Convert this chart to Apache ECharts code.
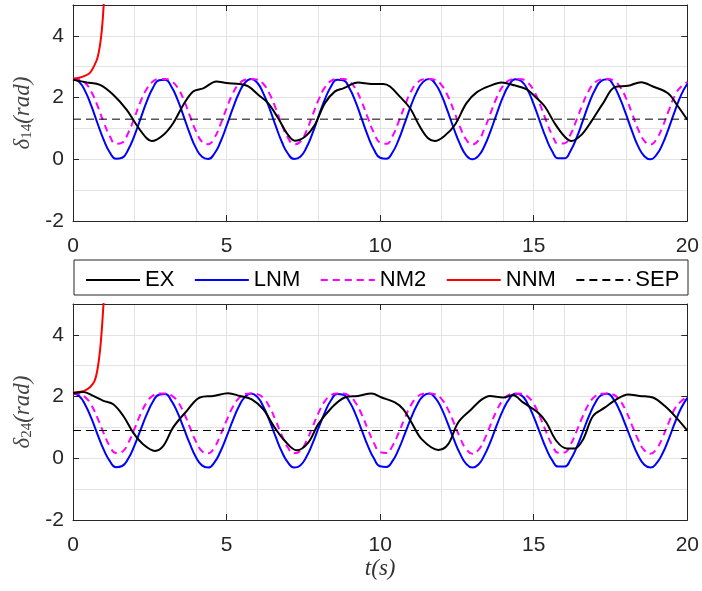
<!DOCTYPE html>
<html><head><meta charset="utf-8">
<script src="https://cdn.jsdelivr.net/npm/echarts@6/dist/echarts.min.js"></script>
<style>html,body{margin:0;padding:0;background:#fff}#c{width:702px;height:591px}</style>
</head><body><div id="c"></div>
<script>
// sample times (s) for LNM / NM2 curves: 0, 0.2, ..., 20
const tSample = Array.from({length: 101}, (_, i) => +(i * 0.2).toFixed(1));

const xTicks = [0, 5, 10, 15, 20];
const yTicks = [-2, 0, 2, 4];
const legendNames = ['EX', 'LNM', 'NM2', 'NNM', 'SEP'];

// ---- top panel: delta_14 ----
const lnm1 = [2.60,2.51,2.20,1.72,1.16,0.63,0.22,0.02,0.05,0.32,
  0.77,1.32,1.87,2.31,2.56,2.58,2.36,1.94,1.40,0.84,
  0.37,0.08,0.01,0.18,0.56,1.08,1.64,2.14,2.48,2.60,
  2.48,2.13,1.64,1.08,0.56,0.18,0.01,0.08,0.38,0.85,
  1.41,1.94,2.36,2.58,2.56,2.30,1.86,1.31,0.76,0.31,
  0.05,0.02,0.22,0.63,1.17,1.73,2.20,2.51,2.60,2.44,
  2.07,1.55,0.99,0.49,0.13,0.00,0.11,0.44,0.93,1.49,
  2.02,2.41,2.59,2.53,2.25,1.78,1.23,0.69,0.26,0.03,
  0.03,0.28,0.71,1.25,1.81,2.26,2.54,2.59,2.39,1.99,
  1.47,0.91,0.42,0.10,0.00,0.15,0.51,1.02,1.58,2.09,
  2.45];
const nm2_1 = [2.60,2.59,2.47,2.18,1.73,1.20,0.75,0.50,0.54,0.86,
  1.35,1.87,2.28,2.52,2.60,2.60,2.54,2.33,1.94,1.42,
  0.92,0.57,0.49,0.69,1.13,1.65,2.13,2.44,2.58,2.60,
  2.58,2.44,2.12,1.65,1.12,0.69,0.49,0.57,0.92,1.43,
  1.94,2.33,2.54,2.60,2.60,2.52,2.28,1.86,1.34,0.85,
  0.54,0.50,0.75,1.21,1.73,2.19,2.47,2.59,2.60,2.57,
  2.40,2.06,1.57,1.05,0.64,0.48,0.61,1.00,1.51,2.01,
  2.38,2.56,2.60,2.59,2.49,2.23,1.79,1.26,0.79,0.51,
  0.52,0.81,1.29,1.81,2.24,2.50,2.59,2.60,2.55,2.36,
  1.99,1.49,0.97,0.60,0.48,0.66,1.07,1.59,2.08,2.36,
  2.50];
const ex1T = [0,0.45,0.88,1.31,1.75,2.07,2.4,2.56,2.94,3.26,3.59,3.91,4.24,4.67,5.0,5.43,5.71,6.03,6.35,6.68,7.0,7.22,7.55,7.87,8.2,8.53,8.8,9.28,9.72,10.1,10.32,10.64,10.97,11.29,11.56,11.78,12.1,12.43,12.81,13.14,13.57,13.95,14.33,14.76,15.05,15.36,15.68,16.01,16.23,16.55,16.87,17.26,17.64,18.07,18.5,18.88,19.37,19.7,20];
const ex1V = [2.58,2.49,2.41,2.09,1.60,1.11,0.68,0.59,0.79,1.17,1.76,2.20,2.30,2.52,2.47,2.44,2.36,2.09,1.82,1.33,0.79,0.60,0.73,1.11,1.82,2.20,2.30,2.49,2.44,2.44,2.36,2.03,1.66,1.06,0.68,0.59,0.76,1.11,1.82,2.17,2.38,2.49,2.41,2.27,2.03,1.71,1.17,0.73,0.59,0.79,1.22,1.82,2.34,2.38,2.50,2.36,2.14,1.71,1.28];
const nnm1T = [0,0.2,0.4,0.55,0.7,0.8,0.88,0.94,0.98,1.02];
const nnm1V = [2.62,2.64,2.71,2.80,3.05,3.30,3.70,4.20,4.70,5.40];
const sep1 = 1.3;

// ---- bottom panel: delta_24 ----
const lnm2 = [2.10,2.02,1.73,1.29,0.77,0.28,-0.09,-0.29,-0.25,-0.01,
  0.41,0.92,1.42,1.83,2.06,2.08,1.87,1.49,0.99,0.48,
  0.04,-0.23,-0.30,-0.14,0.22,0.70,1.22,1.68,1.99,2.10,
  1.99,1.67,1.21,0.69,0.21,-0.14,-0.30,-0.23,0.05,0.48,
  1.00,1.49,1.88,2.08,2.06,1.83,1.42,0.91,0.40,-0.01,
  -0.26,-0.28,-0.09,0.29,0.78,1.29,1.73,2.02,2.10,1.95,
  1.61,1.13,0.61,0.15,-0.18,-0.30,-0.20,0.11,0.56,1.08,
  1.56,1.92,2.09,2.04,1.77,1.34,0.83,0.33,-0.06,-0.27,
  -0.27,-0.04,0.36,0.86,1.37,1.79,2.05,2.09,1.91,1.54,
  1.05,0.54,0.09,-0.21,-0.30,-0.16,0.17,0.64,1.16,1.63,
  1.96];
const nm2_2 = [2.10,2.09,1.98,1.72,1.30,0.81,0.39,0.17,0.21,0.50,
  0.95,1.43,1.81,2.03,2.10,2.10,2.04,1.85,1.49,1.02,
  0.55,0.23,0.16,0.35,0.75,1.23,1.66,1.95,2.08,2.10,
  2.08,1.95,1.66,1.22,0.74,0.34,0.16,0.24,0.56,1.02,
  1.49,1.85,2.05,2.10,2.10,2.02,1.80,1.42,0.94,0.49,
  0.20,0.17,0.40,0.82,1.30,1.72,1.98,2.09,2.10,2.07,
  1.92,1.60,1.15,0.67,0.30,0.15,0.27,0.62,1.10,1.56,
  1.89,2.06,2.10,2.09,2.00,1.76,1.35,0.87,0.43,0.18,
  0.19,0.45,0.89,1.37,1.77,2.01,2.09,2.10,2.06,1.88,
  1.54,1.07,0.60,0.26,0.15,0.31,0.69,1.17,1.62,1.85,
  1.98];
const ex2T = [0,0.34,0.66,0.99,1.31,1.64,1.96,2.29,2.67,2.94,3.26,3.7,4.13,4.57,5.05,5.43,5.82,6.19,6.55,6.9,7.28,7.66,7.98,8.42,8.85,9.28,9.72,10.05,10.48,10.75,11.02,11.35,11.89,12.21,12.54,12.97,13.3,13.57,14.0,14.33,14.65,15.14,15.41,15.74,16.07,16.34,16.61,16.93,17.31,17.69,18.07,18.45,18.88,19.26,19.64,20];
const ex2V = [2.11,2.15,2.02,1.86,1.75,1.37,0.83,0.45,0.24,0.40,1.00,1.53,1.97,2.02,2.11,2.02,1.91,1.59,1.02,0.56,0.26,0.51,1.10,1.64,1.97,2.02,2.10,1.97,1.81,1.59,1.16,0.62,0.27,0.45,1.16,1.59,1.90,2.02,1.97,2.04,1.81,1.48,1.16,0.56,0.32,0.32,0.62,1.37,1.64,1.91,2.07,2.02,1.97,1.70,1.32,0.90];
const nnm2T = [0,0.2,0.4,0.55,0.7,0.8,0.88,0.94,0.98,1.02];
const nnm2V = [2.13,2.15,2.20,2.30,2.50,2.90,3.50,4.20,4.80,5.40];
const sep2 = 0.9;

const pair = (ts, vs) => ts.map((t, i) => [t, vs[i]]);

const AX = '#262626';
const GRIDC = '#e3e3e3';
const FONT = 'Liberation Sans, Arial, sans-serif';
const SERIF = 'Liberation Serif, DejaVu Serif, serif';

const grids = [
  {left: 73, top: 5, width: 615, height: 216},
  {left: 73, top: 304, width: 615, height: 216}
];

const xAxes = [], yAxes = [];
[0, 1].forEach(g => {
  xAxes.push({
    gridIndex: g, type: 'value', position: 'bottom', min: xTicks[0], max: xTicks[xTicks.length - 1], interval: 5,
    axisLine: {show: true, onZero: false, lineStyle: {color: AX, width: 1}},
    axisTick: {show: true, inside: true, length: 6, lineStyle: {color: AX}},
    axisLabel: {fontSize: 21, color: AX, fontFamily: FONT, margin: 15},
    splitLine: {show: true, lineStyle: {color: GRIDC, width: 1}},
    name: g === 1 ? 't(s)' : '', nameLocation: 'middle', nameGap: 37,
    nameTextStyle: {fontFamily: SERIF, fontStyle: 'italic', fontSize: 23, color: '#333'}
  });
  xAxes.push({
    gridIndex: g, type: 'value', position: 'top', min: 0, max: 20, interval: 5,
    axisLine: {show: true, onZero: false, lineStyle: {color: AX, width: 1}},
    axisTick: {show: true, inside: true, length: 6, lineStyle: {color: AX}},
    axisLabel: {show: false}, splitLine: {show: false}
  });
  xAxes.push({
    gridIndex: g, type: 'value', position: 'bottom', min: 0, max: 20, interval: 2,
    axisLine: {show: false}, axisTick: {show: false}, axisLabel: {show: false},
    splitLine: {show: true, lineStyle: {color: GRIDC, width: 1}}
  });
  const sub = g === 0 ? '14' : '24';
  yAxes.push({
    gridIndex: g, type: 'value', position: 'left', min: yTicks[0], max: 5, interval: 2,
    axisLine: {show: true, onZero: false, lineStyle: {color: AX, width: 1}},
    axisTick: {show: true, inside: true, length: 6, lineStyle: {color: AX}},
    axisLabel: {fontSize: 21, color: AX, fontFamily: FONT, margin: 9, showMaxLabel: false},
    splitLine: {show: false},
    name: '{a|δ}{b|' + sub + '}{a|(rad)}', nameLocation: 'middle', nameGap: 31, nameRotate: 90,
    nameTextStyle: {
      rich: {
        a: {fontFamily: SERIF, fontStyle: 'italic', fontSize: 23, color: '#444', lineHeight: 26, verticalAlign: 'bottom'},
        b: {fontFamily: SERIF, fontSize: 15, color: '#444', lineHeight: 15, verticalAlign: 'bottom'}
      }
    }
  });
  yAxes.push({
    gridIndex: g, type: 'value', position: 'right', min: -2, max: 5, interval: 2,
    axisLine: {show: true, onZero: false, lineStyle: {color: AX, width: 1}},
    axisTick: {show: true, inside: true, length: 6, lineStyle: {color: AX}},
    axisLabel: {show: false}, splitLine: {show: false}
  });
  yAxes.push({
    gridIndex: g, type: 'value', position: 'left', min: -2, max: 5, interval: 1,
    axisLine: {show: false}, axisTick: {show: false}, axisLabel: {show: false},
    splitLine: {show: true, lineStyle: {color: GRIDC, width: 1}}
  });
});

function panelSeries(g, ex, lnm, nm2, nnm, sep) {
  const xi = g * 3, yi = g * 3;
  return [
    {name: 'EX', type: 'line', xAxisIndex: xi, yAxisIndex: yi, data: ex, symbol: 'none', smooth: 0.35,
      lineStyle: {color: '#000', width: 2}, itemStyle: {color: '#000'}, z: 5},
    {name: 'LNM', type: 'line', xAxisIndex: xi, yAxisIndex: yi, data: lnm, symbol: 'none', smooth: 0.5,
      lineStyle: {color: '#0000ff', width: 2}, itemStyle: {color: '#0000ff'}, z: 3},
    {name: 'NM2', type: 'line', xAxisIndex: xi, yAxisIndex: yi, data: nm2, symbol: 'none', smooth: 0.5,
      lineStyle: {color: '#ff00ff', width: 2, type: [7, 5]}, itemStyle: {color: '#ff00ff'}, z: 4},
    {name: 'NNM', type: 'line', xAxisIndex: xi, yAxisIndex: yi, data: nnm, symbol: 'none', smooth: 0.4, clip: true,
      lineStyle: {color: '#ff0000', width: 2}, itemStyle: {color: '#ff0000'}, z: 4},
    {name: 'SEP', type: 'line', xAxisIndex: xi, yAxisIndex: yi, data: [[xTicks[0], sep], [xTicks[4], sep]], symbol: 'none',
      lineStyle: {color: '#000', width: 1, type: [8, 5]}, itemStyle: {color: '#000'}, z: 6}
  ];
}

const series = [
  ...panelSeries(0, pair(ex1T, ex1V), pair(tSample, lnm1), pair(tSample, nm2_1), pair(nnm1T, nnm1V), sep1),
  ...panelSeries(1, pair(ex2T, ex2V), pair(tSample, lnm2), pair(tSample, nm2_2), pair(nnm2T, nnm2V), sep2)
];

const chart = echarts.init(document.getElementById('c'), null, {renderer: 'canvas'});
chart.setOption({
  animation: false,
  backgroundColor: '#fff',
  grid: grids,
  xAxis: xAxes,
  yAxis: yAxes,
  legend: {
    data: legendNames, left: 80, top: 264, itemWidth: 54, itemHeight: 14, itemGap: 19.5,
    itemStyle: {opacity: 0},
    textStyle: {fontSize: 22, color: '#000', fontFamily: FONT},
    selectedMode: false
  },
  graphic: [{type: 'rect', shape: {x: 74, y: 260, width: 614, height: 35},
    style: {fill: '#fff', stroke: AX, lineWidth: 1}, z: 1, silent: true}],
  series: series
});
</script></body></html>
